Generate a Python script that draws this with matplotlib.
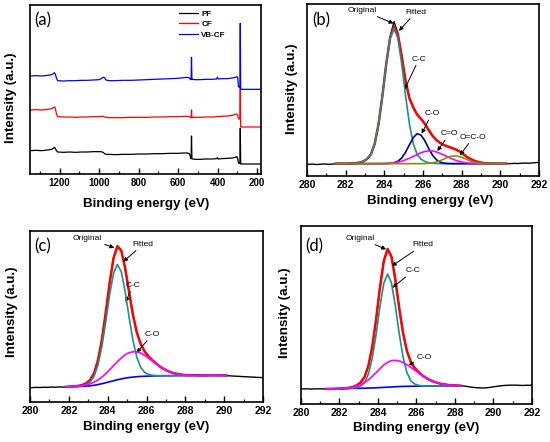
import matplotlib
matplotlib.use('Agg')
import matplotlib.pyplot as plt
from matplotlib.ticker import MultipleLocator

plt.rcParams['font.family'] = ['Liberation Sans', 'DejaVu Sans']
plt.rcParams['font.weight'] = 'bold'

# ---------------- (a) survey spectra ----------------
SURVEY_E = [1350, 1320, 1290, 1260, 1240, 1232, 1227, 1222, 1216, 1210,
            1180, 1150, 1120, 1090, 1060, 1030, 1000, 990, 980, 972,
            965, 950, 920, 880, 840, 800, 760, 720, 680, 640,
            600, 570, 555, 545, 541, 537, 534, 532, 530, 526,
            515, 490, 460, 430, 405, 401, 397, 380, 350, 325,
            310, 302, 298, 294, 290, 287, 285, 283, 280, 260,
            240, 220, 200, 180]
PF = [70, 71, 70, 72, 74, 77, 80, 77, 70, 66,
      65, 66, 65, 66, 66, 67, 67, 67, 65, 61,
      59, 59, 58, 59, 59, 60, 60, 61, 61, 62,
      62, 63, 63, 62, 58, 50, 46, 114, 46, 45,
      44, 44, 45, 45, 46, 49, 45, 46, 47, 48,
      50, 52, 46, 33, 32, 32, 137, 30, 30, 30,
      30, 30, 30, 30]
CF = [192, 193, 192, 194, 196, 199, 201, 198, 180, 172,
      171, 171, 170, 171, 171, 172, 172, 173, 173, 171,
      170, 169, 169, 169, 170, 170, 170, 171, 171, 172,
      172, 173, 173, 172, 171, 170, 169, 192, 169, 170,
      170, 170, 171, 171, 172, 173, 172, 173, 174, 176,
      179, 180, 176, 166, 165, 165, 258, 141, 141, 141,
      141, 141, 141, 141]
VBCF = [294, 295, 294, 296, 298, 301, 304, 300, 288, 280,
        279, 280, 280, 281, 281, 282, 283, 286, 290, 289,
        282, 280, 280, 281, 281, 282, 283, 284, 285, 286,
        287, 289, 290, 289, 286, 284, 283, 350, 284, 284,
        283, 283, 284, 284, 285, 290, 285, 286, 286, 288,
        290, 292, 288, 262, 260, 260, 452, 254, 254, 254,
        254, 254, 254, 254]
SURVEY_LABELS = ['PF', 'CF', 'VB-CF']

# ---------------- C1s energy grid (eV) ----------------
ENERGY = [279.9, 280.1, 280.3, 280.5, 280.7, 280.9, 281.1, 281.3, 281.5, 281.7,
          281.9, 282.1, 282.3, 282.5, 282.7, 282.9, 283.1, 283.3, 283.5, 283.7,
          283.9, 284.1, 284.3, 284.5, 284.7, 284.9, 285.1, 285.3, 285.5, 285.7,
          285.9, 286.1, 286.3, 286.5, 286.7, 286.9, 287.1, 287.3, 287.5, 287.7,
          287.9, 288.1, 288.3, 288.5, 288.7, 288.9, 289.1, 289.3, 289.5, 289.7,
          289.9, 290.1, 290.3, 290.5, 290.7, 290.9, 291.1, 291.3, 291.5, 291.7,
          291.9, 292.1]

# ---------------- (b) ----------------
E_B = ENERGY[8:53]
ORIG_B = [-0.4, -0.5, -0.3, -0.6, -0.4, -0.2, -0.5, -0.3, -0.1, -0.3, 0.0, -0.2,
          0.1, 0.3, 0.8, 1.6, 3.3, 6.5, 14.0, 28.0, 48.0, 70.5, 89.5, 100.0, 92.0,
          75.5, 58.0, 46.0, 39.5, 34.5, 31.5, 28.0, 23.5, 19.5, 16.5, 14.5, 13.0,
          12.0, 11.0, 10.0, 8.5, 6.5, 4.5, 3.0, 1.8, 1.0, 0.6, 0.2, 0.3, 0.0, 0.2,
          -0.1, 0.1, 0.0, 0.2, 0.1, 0.3, 0.4, 0.3, 0.6, 0.8, 0.9]
FIT_B = [0, 0, 0, 0, 0.1, 0.3, 0.7, 1.5, 3.2, 6.4, 13.9, 27.8, 47.8, 70.3, 88.8,
         96.5, 91.0, 75.7, 58.3, 46.0, 39.5, 34.5, 31.5, 28.0, 23.5, 19.5, 16.5,
         14.5, 13.0, 12.0, 11.0, 10.0, 8.5, 6.5, 4.5, 3.0, 1.8, 1.0, 0.5, 0.2, 0.1,
         0, 0, 0, 0]
CC_B = [0, 0, 0, 0, 0.1, 0.3, 0.7, 1.5, 3.2, 6.4, 13.9, 27.8, 47.7, 70.1, 88.3,
        95.3, 88.3, 70.1, 47.7, 27.8, 13.9, 6.4, 3.2, 1.5, 0.7, 0.3, 0.1,
        0, 0, 0, 0, 0, 0, 0, 0, 0, 0, 0, 0, 0, 0, 0, 0, 0, 0]
CO_B = [0, 0, 0, 0, 0, 0, 0, 0, 0, 0, 0, 0, 0, 0,
        0.2, 0.6, 1.7, 4.0, 8.1, 13.3, 18.4, 21.1, 20.1, 16.0, 10.6, 5.8, 2.7,
        1.0, 0.3, 0.1,
        0, 0, 0, 0, 0, 0, 0, 0, 0, 0, 0, 0, 0, 0, 0]
CdO_B = [0, 0, 0, 0, 0, 0, 0, 0, 0, 0, 0, 0,
         0.1, 0.2, 0.3, 0.65, 1.1, 1.7, 2.7, 3.8, 5.1, 6.4, 7.7, 8.6, 9.0, 8.9,
         8.2, 7.2, 6.0, 4.6, 3.4, 2.3, 1.4, 0.9, 0.5, 0.3, 0.1, 0.1,
         0, 0, 0, 0, 0, 0, 0]
OCO_B = [0, 0, 0, 0, 0, 0, 0, 0, 0, 0, 0, 0, 0, 0, 0, 0, 0, 0, 0, 0, 0, 0, 0,
         0.1, 0.25, 0.6, 1.2, 2.2, 3.4, 4.6, 5.3, 5.5, 4.9, 4.0, 2.8, 1.7, 0.9,
         0.4, 0.2, 0.05,
         0, 0, 0, 0, 0]

# ---------------- (c) ----------------
E_C = ENERGY[10:52]
ORIG_C = [0.1, 0.0, 0.2, 0.1, 0.3, 0.2, 0.4, 0.3, 0.5, 0.4,
          0.6, 0.8, 1.0, 1.3, 1.9, 3.2, 5.5, 10.3, 19.4, 33.8, 53.2, 74.4, 92.5,
          101.0, 97.4, 85.1, 68.1, 51.8, 39.3, 31.0, 25.8, 22.3, 19.5, 17.1, 14.9,
          13.2, 11.8, 10.7, 10.0, 9.5, 9.1, 8.9, 9.0, 8.8, 8.9,
          8.7, 8.9, 8.8, 8.7, 8.6, 8.7, 8.5, 8.4, 8.2, 8.1, 7.9, 7.8, 7.6, 7.5,
          7.3, 7.2, 7.1]
FIT_C = [0.6, 0.8, 1.0, 1.3, 1.9, 3.2, 5.5, 10.3, 19.4, 33.8, 53.2, 74.4, 91.9,
         100.5, 97.4, 85.1, 68.1, 51.8, 39.3, 31.0, 25.8, 22.3, 19.5, 17.1, 14.9,
         13.2, 11.8, 10.7, 10.0, 9.5, 9.1, 8.9, 8.9, 8.8, 8.7, 8.7, 8.7, 8.8, 8.8,
         8.8, 8.8, 8.8]
CC_C = [0.6, 0.7, 0.8, 1.0, 1.4, 2.3, 4.1, 8.1, 16.1, 29.1, 46.8, 65.9, 81.2,
        87.6, 82.5, 68.5, 50.5, 33.8, 21.7, 14.4, 10.9, 9.4, 8.8, 8.6, 8.5, 8.5,
        8.5, 8.5, 8.6, 8.6, 8.6, 8.6, 8.7, 8.7, 8.7, 8.7, 8.7, 8.8, 8.8, 8.8,
        8.8, 8.8]
CO_C = [0.6, 0.8, 0.9, 1.1, 1.4, 2.0, 2.7, 3.9, 5.5, 7.5, 9.9, 12.7, 15.6,
        18.5, 21.1, 23.4, 24.8, 25.5, 25.4, 24.6, 23.0, 21.1, 19.0, 16.9, 14.8,
        13.2, 11.8, 10.7, 10.0, 9.5, 9.1, 8.9, 8.9, 8.8, 8.7, 8.7, 8.7, 8.8, 8.8,
        8.8, 8.8, 8.8]
BG_C = [0.6, 0.7, 0.7, 0.8, 0.9, 1.1, 1.3, 1.7, 2.2, 2.8, 3.5, 4.2, 4.9, 5.6,
        6.2, 6.8, 7.2, 7.5, 7.8, 8.0, 8.1, 8.2, 8.3, 8.4, 8.4, 8.5, 8.5, 8.5,
        8.6, 8.6, 8.6, 8.6, 8.7, 8.7, 8.7, 8.7, 8.7, 8.8, 8.8, 8.8, 8.8, 8.8]

# ---------------- (d) ----------------
E_D = ENERGY[7:43]
ORIG_D = [0.1, 0.0, 0.1, -0.1, 0.0, 0.1, 0.0, 0.0, 0.1, 0.1, 0.2, 0.3,
          0.5, 0.8, 1.5, 2.6, 4.7, 8.5, 16.5, 30.1, 49.7, 72.4, 92.0, 100.5, 94.8,
          78.4, 58.1, 40.1, 27.4, 19.5, 15.2, 12.1, 9.7, 7.9, 6.4, 5.2, 4.3, 3.6,
          3.2, 2.9, 2.8, 2.6, 2.3,
          2.0, 1.6, 1.2, 0.9, 0.7, 0.7, 0.9, 1.3, 1.7, 2.1, 2.4, 2.6, 2.7, 2.7,
          2.6, 2.5, 2.6, 2.6, 2.7]
FIT_D = [0.0, 0.05, 0.1, 0.2, 0.3, 0.5, 0.8, 1.45, 2.6, 4.65, 8.5, 16.5, 30.1,
         49.7, 72.35, 91.6, 100.05, 94.8, 78.35, 58.1, 40.1, 27.35, 19.5, 15.15,
         12.1, 9.7, 7.85, 6.35, 5.2, 4.3, 3.6, 3.1, 2.75, 2.55, 2.4, 2.3]
CC_D = [0.0, 0.05, 0.1, 0.15, 0.2, 0.25, 0.3, 0.55, 1.0, 2.05, 4.5, 10.6, 21.9,
        38.9, 58.9, 75.6, 82.3, 75.9, 59.5, 39.8, 23.0, 11.9, 5.9, 3.6, 2.6, 2.2,
        2.05, 2.05, 2.1, 2.1, 2.1, 2.15, 2.15, 2.2, 2.2, 2.2]
CO_D = [0.0, 0.05, 0.1, 0.2, 0.3, 0.5, 0.8, 1.25, 2.0, 3.05, 4.5, 6.5, 8.9,
        11.6, 14.45, 17.1, 19.05, 20.3, 20.45, 20.0, 18.9, 17.35, 15.5, 13.55,
        11.5, 9.5, 7.85, 6.35, 5.2, 4.3, 3.6, 3.1, 2.75, 2.55, 2.4, 2.3]
BG_D = [0.0, 0.05, 0.1, 0.15, 0.2, 0.25, 0.3, 0.35, 0.4, 0.45, 0.5, 0.6, 0.7,
        0.8, 0.95, 1.1, 1.25, 1.4, 1.55, 1.7, 1.8, 1.85, 1.9, 1.95, 2.0, 2.0,
        2.05, 2.05, 2.1, 2.1, 2.1, 2.15, 2.15, 2.2, 2.2, 2.2]

# ---------------- figure ----------------
fig = plt.figure(figsize=(5.5, 4.42), dpi=100)
ax_a = fig.add_axes([0.05455, 0.60633, 0.42, 0.38235])
ax_b = fig.add_axes([0.55818, 0.60181, 0.42182, 0.38914])
ax_c = fig.add_axes([0.05455, 0.0905, 0.42364, 0.38688])
ax_d = fig.add_axes([0.54727, 0.08597, 0.42, 0.40271])

TEAL = '#16928f'
NAVY = '#00008b'
MAG = '#ff00ff'
OLIVE = '#8b8b00'
BLUE = '#0000ff'
RED = '#ff0000'


def style(ax, tick_fs, xlabel_xy, ylabel_xy, panel, panel_xy):
    for s in ax.spines.values():
        s.set_linewidth(1.2)
    ax.tick_params(axis='x', which='both', direction='in', bottom=True,
                   top=False, labelsize=tick_fs, pad=3)
    ax.tick_params(axis='x', which='major', length=4, width=1.0)
    ax.tick_params(axis='x', which='minor', length=2.5, width=0.9)
    ax.tick_params(axis='y', which='both', left=False, labelleft=False)
    ax.set_xlabel('Binding energy (eV)', fontsize=9.6, fontweight='bold')
    ax.set_ylabel('Intensity (a.u.)', fontsize=9.6, fontweight='bold')
    ax.xaxis.label.set_verticalalignment('center')
    ax.yaxis.label.set_verticalalignment('center')
    ax.xaxis.set_label_coords(*xlabel_xy)
    ax.yaxis.set_label_coords(*ylabel_xy)
    ax.text(panel_xy[0], panel_xy[1], panel, transform=ax.transAxes,
            fontsize=12, family=['Lato', 'DejaVu Sans'], fontweight='normal',
            ha='center', va='center')


def note(ax, text, xytext, xy):
    ax.annotate(text, xy=xy, xytext=xytext, textcoords='data',
                fontsize=6, fontweight='normal', ha='center', va='center',
                arrowprops=dict(arrowstyle='-|>', color='black', lw=0.7,
                                mutation_scale=6, shrinkA=0, shrinkB=0))


# (a)
ax_a.plot(SURVEY_E, PF, color='black', lw=0.9, label=SURVEY_LABELS[0])
ax_a.plot(SURVEY_E, CF, color=RED, lw=0.9, label=SURVEY_LABELS[1])
ax_a.plot(SURVEY_E, VBCF, color=BLUE, lw=0.9, label=SURVEY_LABELS[2])
ax_a.set_xlim(1350, 180)
ax_a.set_ylim(0, 507)
ax_a.xaxis.set_major_locator(MultipleLocator(200))
ax_a.xaxis.set_minor_locator(MultipleLocator(100))
leg = ax_a.legend(loc='upper left', bbox_to_anchor=(0.645, 0.97),
                  frameon=False, fontsize=5.8, borderpad=0, borderaxespad=0,
                  handlelength=2.3, handletextpad=0.45, labelspacing=0.35)
style(ax_a, 7.0, (0.501, -0.176), (-0.082, 0.453), '(a)', (0.056, 0.908))

# (b)
ax_b.plot(ENERGY, ORIG_B, color='black', lw=1.0, zorder=2)
ax_b.plot(E_B, FIT_B, color=RED, lw=1.8, zorder=3)
ax_b.plot(E_B, CC_B, color=TEAL, lw=1.2, zorder=4)
ax_b.plot(E_B, CO_B, color=NAVY, lw=1.2, zorder=5)
ax_b.plot(E_B, CdO_B, color=MAG, lw=1.2, zorder=6)
ax_b.plot(E_B, OCO_B, color=OLIVE, lw=1.2, zorder=7)
ax_b.set_xlim(280, 292)
ax_b.set_ylim(-8.7, 112.5)
ax_b.xaxis.set_major_locator(MultipleLocator(2))
ax_b.xaxis.set_minor_locator(MultipleLocator(1))
style(ax_b, 7.5, (0.53, -0.145), (-0.065, 0.509), '(b)', (0.060, 0.904))
note(ax_b, 'Original', (282.87, 108.0), (284.47, 98.8))
note(ax_b, 'Fitted', (285.62, 106.6), (284.76, 93.6))
note(ax_b, 'C-C', (285.79, 73.6), (285.04, 52.2))
note(ax_b, 'C-O', (286.46, 35.1), (285.93, 21.2))
note(ax_b, 'C=O', (287.37, 20.9), (286.74, 8.9))
note(ax_b, 'O=C-O', (288.60, 18.6), (287.91, 5.9))

# (c)
ax_c.plot(ENERGY, ORIG_C, color='black', lw=1.0, zorder=2)
ax_c.plot(E_C, FIT_C, color=RED, lw=1.8, zorder=3)
ax_c.plot(E_C, BG_C, color=BLUE, lw=1.2, zorder=4)
ax_c.plot(E_C, CC_C, color=TEAL, lw=1.2, zorder=5)
ax_c.plot(E_C, CO_C, color=MAG, lw=1.2, zorder=6)
ax_c.set_xlim(280, 292)
ax_c.set_ylim(-10.2, 111.4)
ax_c.xaxis.set_major_locator(MultipleLocator(2))
ax_c.xaxis.set_minor_locator(MultipleLocator(1))
style(ax_c, 7.5, (0.497, -0.146), (-0.079, 0.529), '(c)', (0.054, 0.909))
note(ax_c, 'Original', (282.95, 106.2), (284.34, 99.5))
note(ax_c, 'Fitted', (285.83, 101.9), (284.80, 89.6))
note(ax_c, 'C-C', (285.31, 72.7), (284.92, 60.9))
note(ax_c, 'C-O', (286.31, 37.7), (285.49, 24.9))

# (d)
ax_d.plot(ENERGY, ORIG_D, color='black', lw=1.0, zorder=2)
ax_d.plot(E_D, FIT_D, color=RED, lw=1.8, zorder=3)
ax_d.plot(E_D, BG_D, color=BLUE, lw=1.2, zorder=4)
ax_d.plot(E_D, CC_D, color=TEAL, lw=1.2, zorder=5)
ax_d.plot(E_D, CO_D, color=MAG, lw=1.2, zorder=6)
ax_d.set_xlim(280, 292)
ax_d.set_ylim(-10.8, 116.7)
ax_d.xaxis.set_major_locator(MultipleLocator(2))
ax_d.xaxis.set_minor_locator(MultipleLocator(1))
style(ax_d, 7.5, (0.499, -0.135), (-0.071, 0.514), '(d)', (0.056, 0.885))
note(ax_d, 'Original', (283.09, 107.9), (284.42, 100.0))
note(ax_d, 'Fitted', (286.33, 103.1), (284.72, 88.0))
note(ax_d, 'C-C', (285.84, 84.7), (284.75, 72.5))
note(ax_d, 'C-O', (286.40, 22.5), (285.58, 17.0))

fig.savefig('out.png', dpi=100)
